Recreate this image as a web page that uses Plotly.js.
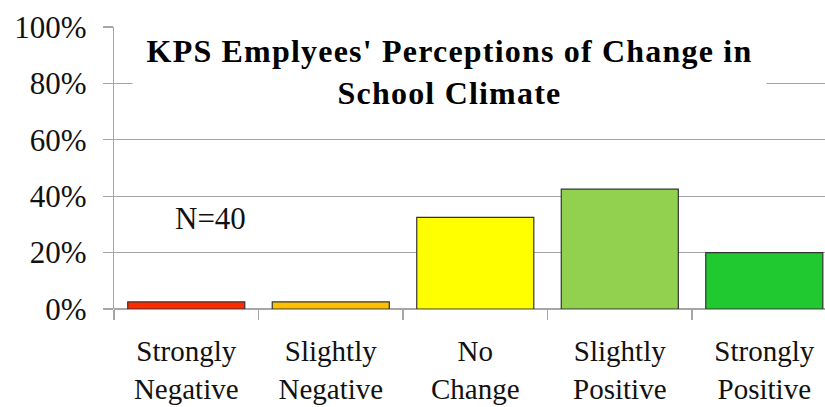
<!DOCTYPE html>
<html><head><meta charset="utf-8">
<script src="https://cdn.plot.ly/plotly-3.0.1.min.js"></script>
<style>html,body{margin:0;padding:0;background:#fff}#chart{width:825px;height:407px}</style>
</head><body><div id="chart"></div>
<script>
const categories = ["Strongly<br>Negative", "Slightly<br>Negative", "No<br>Change", "Slightly<br>Positive", "Strongly<br>Positive"];
const percents = [2.5, 2.5, 32.5, 42.5, 20];
const barColors = ["#FF2A00", "#FFC000", "#FFFF00", "#92D050", "#1FC92F"];
const yTicks = [0, 20, 40, 60, 80, 100];
const yTickText = ["0%", "20%", "40%", "60%", "80%", "100%"];
const titleLines = ["KPS Emplyees' Perceptions of Change in", "School Climate"];
const noteText = "N=40";

const serif = "'Liberation Serif', 'Times New Roman', serif";
const grid = "#A6A6A6";

const trace = {
  type: "bar", x: categories, y: percents,
  marker: {color: barColors, line: {color: "#333333", width: 1.2}},
  hoverinfo: "skip"
};

const titleHtml = titleLines.map(s => '<span style="letter-spacing:1.2px"><b>' + s + '</b></span>').join("<br>");

const layout = {
  width: 825, height: 407,
  font: {family: serif, color: "#111"},
  margin: {l: 114, r: 0, t: 26.5, b: 97.5, pad: 0},
  paper_bgcolor: "#fff", plot_bgcolor: "#fff",
  showlegend: false, bargap: 0.19,
  xaxis: {
    type: "category", range: [-0.5, 4.42],
    showgrid: false, zeroline: false,
    showline: false,
    ticks: "outside", tickson: "boundaries", ticklen: 10, tickcolor: grid, tickwidth: 1.3,
    tickfont: {family: serif, size: 29, color: "#111"},
    ticklabelstandoff: 22
  },
  yaxis: {
    range: [0, 100], tickvals: yTicks, ticktext: yTickText,
    showgrid: true, gridcolor: grid, gridwidth: 1.3,
    zeroline: true, zerolinecolor: grid, zerolinewidth: 1.3,
    showline: true, linecolor: grid, linewidth: 1.3,
    ticks: "outside", ticklen: 10, tickcolor: grid, tickwidth: 1.3,
    tickfont: {family: serif, size: 31, color: "#111"},
    ticklabelstandoff: 10
  },
  annotations: [
    {text: titleHtml, xref: "paper", yref: "paper", x: 0.472, y: 0.839,
     xanchor: "center", yanchor: "middle", showarrow: false,
     font: {family: serif, size: 32, color: "#000"},
     width: 633, height: 80, align: "center", valign: "middle",
     bgcolor: "#fff", borderpad: 0},
    {text: noteText, xref: "x", yref: "y", x: 0.17, y: 32,
     xanchor: "center", yanchor: "middle", showarrow: false,
     font: {family: serif, size: 31, color: "#111"}}
  ]
};

Plotly.newPlot("chart", [trace], layout, {displayModeBar: false, staticPlot: true});
</script></body></html>
